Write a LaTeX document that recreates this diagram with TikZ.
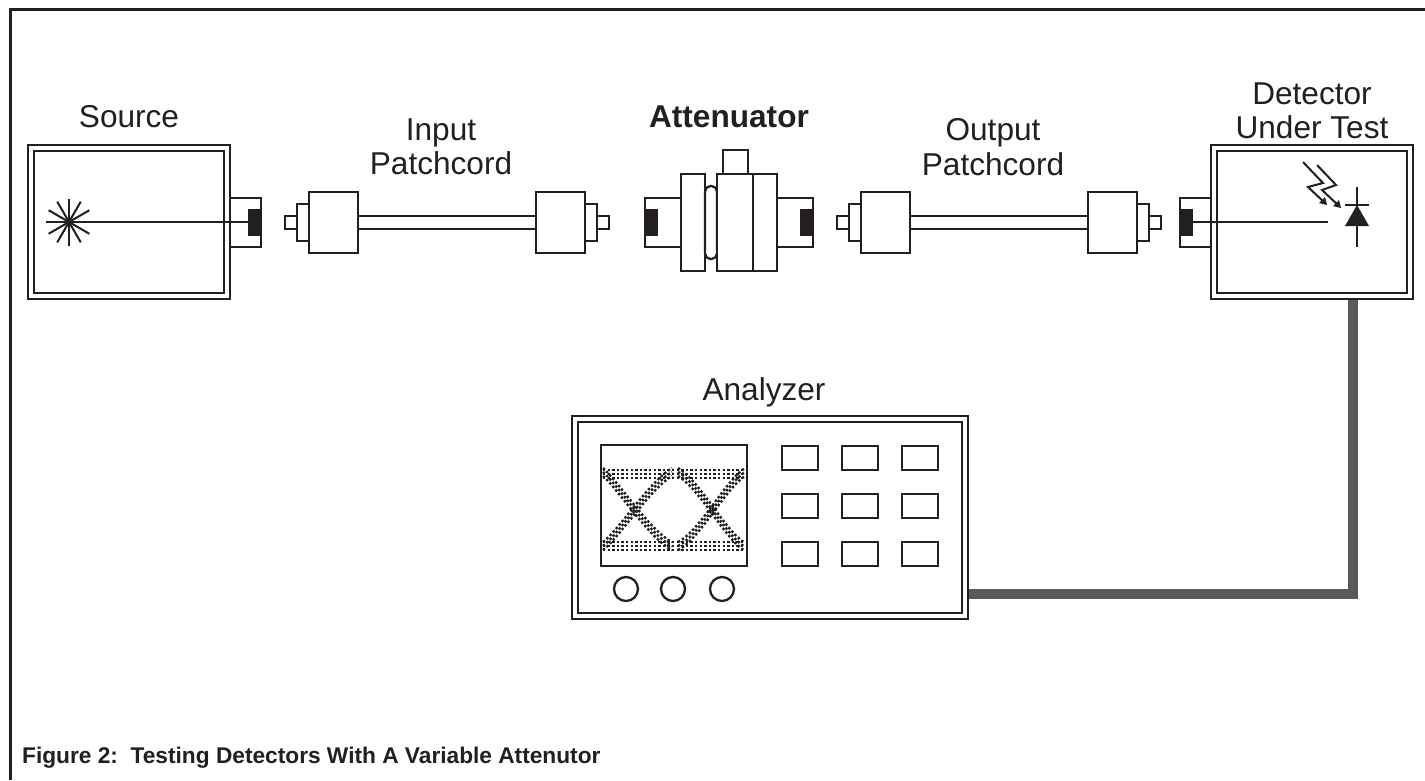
\documentclass[tikz,border=0pt]{standalone}
\usepackage{fontspec}
\setmainfont{Liberation Sans}
\tikzset{
  thinbox/.style={draw=inkc,line width=2.3pt,fill=white},
  inkline/.style={line width=2.3pt,color=inkc},
  devbox/.style={draw=inkc,line width=2.3pt,double=white,double distance=3.2pt,inner sep=0pt,outer sep=4pt},
  knob/.style={draw=inkc,line width=2.3pt,circle,inner sep=0pt,minimum size=24pt},
  panelkey/.style={draw=inkc,line width=2.3pt,inner sep=0pt,minimum width=36pt,minimum height=24.5pt},
  caplabel/.style={font=\fontsize{31.6}{34.5}\selectfont,align=center,text=inkc,inner sep=0pt},
  eyedots/.style={draw=inkc,line width=2.4pt,dash pattern=on 2.4pt off 2.2pt},
}
\definecolor{inkc}{HTML}{231F20}
\definecolor{cablec}{HTML}{58595B}
\begin{document}
\begin{tikzpicture}[x=1pt,y=-1pt,line cap=butt,line join=miter]
\useasboundingbox (0,0) rectangle (1425,780);
% frame, open on two sides
\draw [line width=3pt,color=inkc] (10.5,780) -- (10.5,9.5) -- (1425,9.5);
% boxes
\node [devbox,minimum width=196pt,minimum height=148pt] (source) at (129,222) {};
\node [devbox,minimum width=196pt,minimum height=148pt] (detector) at (1312,222) {};
\node [devbox,minimum width=390pt,minimum height=197pt] (analyzer) at (770,517.5) {};
% cable from analyzer to detector
\coordinate (bend) at (1353,594);
\draw [line width=10.5pt,color=cablec] (analyzer.east |- bend) -- (bend) -- (detector.south -| bend);
% source port and laser
\draw [thinbox,fill=none] (230,198.3) -- (261,198.3) -- (261,247) -- (230,247);
\fill [inkc] (248,209) rectangle (262,236);
\foreach \a in {0,30,...,150}
  \draw [line width=2pt,color=inkc] (69,222) ++(\a:23.5) -- ++(\a+180:47);
\draw [inkline] (69,222) -- (248,222);
% input patchcord
\draw [inkline] (358,216) -- (536,216);
\draw [inkline] (358,229) -- (536,229);
\draw [thinbox] (285,216) rectangle (297,229);
\draw [thinbox] (297,204) rectangle (309,241);
\draw [thinbox] (309,192) rectangle (358,253);
\draw [thinbox] (536,192) rectangle (585,253);
\draw [thinbox] (585,204) rectangle (597,241);
\draw [thinbox] (597,216) rectangle (609,229);
% attenuator
\draw [thinbox,fill=none] (681,198.3) -- (645,198.3) -- (645,247) -- (681,247);
\fill [inkc] (644,209) rectangle (658,236);
\draw [thinbox] (681,174) rectangle (705,271);
\draw [thinbox,rounded corners=5.5pt] (705,186) rectangle (717,259);
\draw [thinbox] (723,150) rectangle (748,174);
\draw [thinbox] (717,174) rectangle (777,271);
\draw [inkline] (753,174) -- (753,271);
\draw [thinbox,fill=none] (777,198.3) -- (813,198.3) -- (813,247) -- (777,247);
\fill [inkc] (800,209) rectangle (814,236);
% output patchcord
\draw [inkline] (910,216) -- (1088,216);
\draw [inkline] (910,229) -- (1088,229);
\draw [thinbox] (837,216) rectangle (849,229);
\draw [thinbox] (849,204) rectangle (861,241);
\draw [thinbox] (861,192) rectangle (910,253);
\draw [thinbox] (1088,192) rectangle (1137,253);
\draw [thinbox] (1137,204) rectangle (1149,241);
\draw [thinbox] (1149,216) rectangle (1161,229);
% detector port and diode
\draw [thinbox,fill=none] (1211,198.3) -- (1180,198.3) -- (1180,247) -- (1211,247);
\fill [inkc] (1179,209) rectangle (1193,236);
\draw [inkline] (1193,222) -- (1328,222);
\draw [inkline] (1357,187) -- (1357,247);
\draw [inkline] (1345,205) -- (1369,205);
\fill [inkc] (1357,205) -- (1369,226) -- (1345,226) -- cycle;
\draw [line width=2pt,color=inkc] (1303,162) -- (1323,183) -- (1308,187) -- (1325,203);
\draw [line width=2pt,color=inkc] (1317,165) -- (1336,185) -- (1322,190) -- (1339,206);
\fill [inkc] (1327,205) -- (1319,203) -- (1325,197) -- cycle;
\fill [inkc] (1341,208) -- (1333,206) -- (1339,200) -- cycle;
% analyzer screen
\draw [thinbox] (601,445) rectangle (747,566);
\foreach \r in {470,474,478,542,546,550}
  \draw [eyedots] (603,\r) -- (745,\r);
\foreach \o in {-4,0,4} {
  \draw [eyedots] (603,472+\o) .. controls (618,485+\o) and (650,535+\o) .. (672,546+\o);
  \draw [eyedots] (603,546+\o) .. controls (618,535+\o) and (650,485+\o) .. (672,472+\o);
  \draw [eyedots] (678,472+\o) .. controls (700,485+\o) and (725,535+\o) .. (745,547+\o);
  \draw [eyedots] (678,546+\o) .. controls (700,535+\o) and (725,485+\o) .. (745,472+\o);
}
% knobs
\foreach \x/\n in {626/a,673/b,722/c}
  \node [knob] (knob\n) at (\x,589) {};
% keys
\foreach \x in {800,860,920}
  \foreach \y in {458,506,554}
    \node [panelkey] (key\x\y) at (\x,\y) {};
% labels
\node [caplabel] (sourcelabel) at (129,117) {Source};
\node [caplabel] (inputlabel) at (441,147) {Input\\Patchcord};
\node [caplabel,font=\fontsize{31.6}{34.5}\selectfont\bfseries] (attenlabel) at (729,117) {Attenuator};
\node [caplabel] (outputlabel) at (993,147) {Output\\Patchcord};
\node [caplabel] (detectorlabel) at (1312,111) {Detector\\Under Test};
\node [caplabel] (analyzerlabel) at (764,392) {Analyzer};
\node [anchor=base west,font=\fontsize{22.7}{26}\selectfont\bfseries,text=inkc,inner sep=0pt] (figcaption) at (22,763) {Figure 2:\ \ Testing Detectors With A Variable Attenutor};
\end{tikzpicture}
\end{document}
